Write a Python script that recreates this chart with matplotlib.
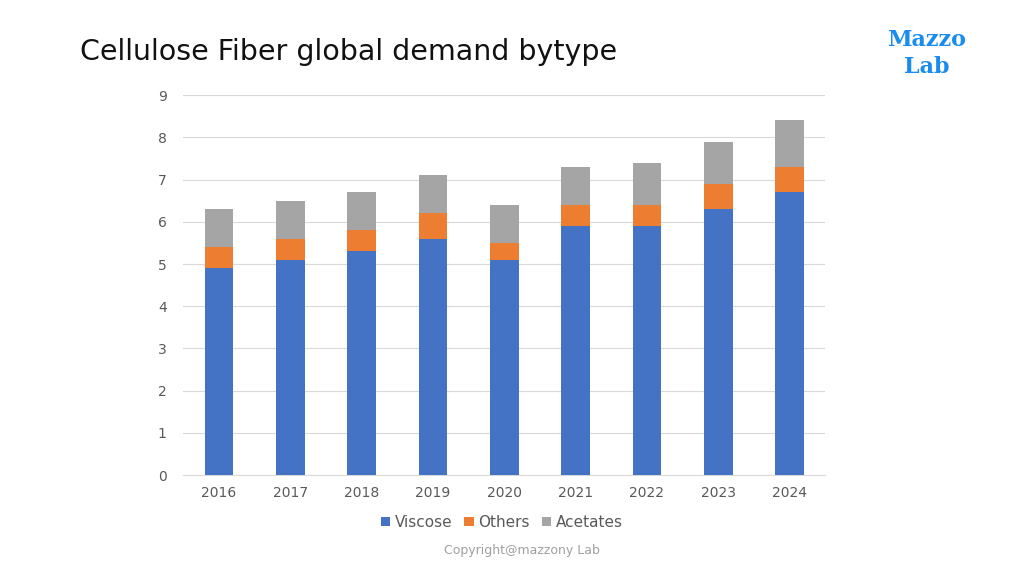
import matplotlib
matplotlib.use("Agg")
import matplotlib.pyplot as plt
import numpy as np

years = ["2016","2017","2018","2019","2020","2021","2022","2023","2024"]
viscose = [4.9,5.1,5.3,5.6,5.1,5.9,5.9,6.3,6.7]
others = [0.5,0.5,0.5,0.6,0.4,0.5,0.5,0.6,0.6]
acetates = [0.9,0.9,0.9,0.9,0.9,0.9,1.0,1.0,1.1]

fig = plt.figure(figsize=(10.24,5.76), dpi=100)
ax = fig.add_axes([0.179,0.175,0.627,0.66])
x = np.arange(len(years))
w = 0.4
v = np.array(viscose); o = np.array(others)
ax.bar(x, viscose, w, color="#4472C4", label="Viscose", zorder=3)
ax.bar(x, others, w, bottom=v, color="#ED7D31", label="Others", zorder=3)
ax.bar(x, acetates, w, bottom=v+o, color="#A5A5A5", label="Acetates", zorder=3)
ax.set_ylim(0,9)
ax.set_xlim(-0.5, len(years)-0.5)
ax.set_yticks(range(10))
ax.set_xticks(x, years)
ax.grid(axis="y", color="#D9D9D9", lw=0.8, zorder=0)
for s in ["top","right","left"]:
    ax.spines[s].set_visible(False)
ax.spines["bottom"].set_color("#D9D9D9")
ax.tick_params(length=0, colors="#595959", labelsize=10)
ax.tick_params(axis="x", pad=8)
ax.tick_params(axis="y", pad=12)
fig.legend(loc="center", bbox_to_anchor=(0.49,0.093), ncol=3, frameon=False,
           fontsize=11, handlelength=0.6, handleheight=0.6, columnspacing=0.8,
           handletextpad=0.3, labelcolor="#595959")
fig.text(0.078,0.91,"Cellulose Fiber global demand bytype", fontsize=20.5, va="center", color="#111111")
fig.text(0.905,0.93,"Mazzo", fontsize=16, fontweight="bold", family="DejaVu Serif", color="#1A8CF0", ha="center", va="center")
fig.text(0.905,0.883,"Lab", fontsize=16, fontweight="bold", family="DejaVu Serif", color="#1A8CF0", ha="center", va="center")
fig.text(0.51,0.045,"Copyright@mazzony Lab", fontsize=9, color="#A0A0A0", ha="center", va="center")
fig.savefig("out.png", dpi=100)
